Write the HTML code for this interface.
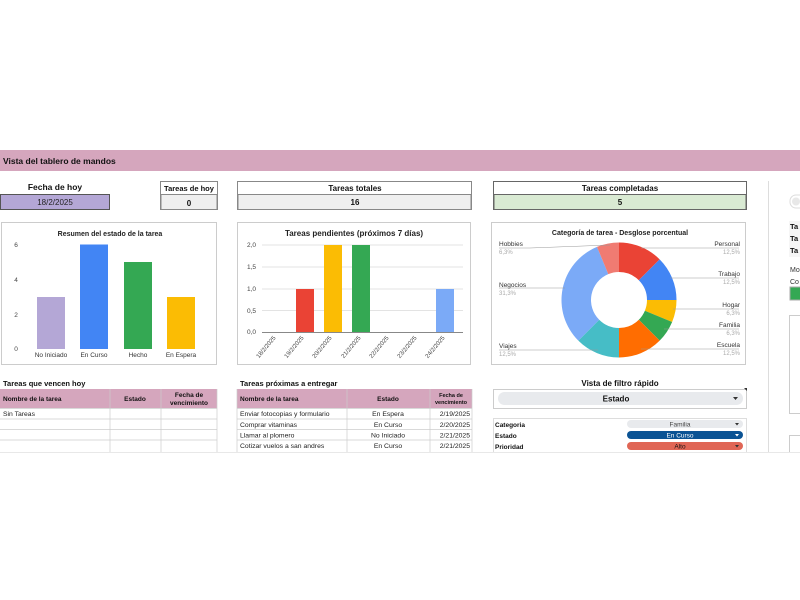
<!DOCTYPE html>
<html><head><meta charset="utf-8"><style>
html,body{margin:0;padding:0;background:#fff;}
svg{display:block;font-family:"Liberation Sans",sans-serif;}
</style></head><body>
<svg width="800" height="600" viewBox="0 0 800 600" xmlns="http://www.w3.org/2000/svg">
<rect width="800" height="600" fill="#fff"/>
<!-- header -->
<rect x="0" y="150" width="800" height="21" fill="#d5a6bd"/>
<text x="3" y="164" font-size="8.5" font-weight="bold" fill="#111">Vista del tablero de mandos</text>

<!-- Fecha de hoy -->
<text x="55" y="190" font-size="8.5" font-weight="bold" text-anchor="middle" fill="#111">Fecha de hoy</text>
<rect x="0.5" y="194.5" width="109" height="15" fill="#b4a7d6" stroke="#555"/>
<text x="55" y="205" font-size="8" text-anchor="middle" fill="#222">18/2/2025</text>

<!-- Tareas de hoy -->
<rect x="160.5" y="181.5" width="57" height="28" fill="#fff" stroke="#888"/>
<rect x="161" y="194.5" width="56" height="15" fill="#efefef" stroke="#888"/>
<text x="189" y="191" font-size="7.5" font-weight="bold" text-anchor="middle" fill="#111">Tareas de hoy</text>
<text x="189" y="206" font-size="8" font-weight="bold" text-anchor="middle" fill="#111">0</text>

<!-- Tareas totales -->
<rect x="237.5" y="181.5" width="234" height="28" fill="#fff" stroke="#888"/>
<rect x="238" y="194.5" width="233" height="15" fill="#efefef" stroke="#888"/>
<text x="355" y="191" font-size="8" font-weight="bold" text-anchor="middle" fill="#111">Tareas totales</text>
<text x="355" y="205" font-size="8" font-weight="bold" text-anchor="middle" fill="#111">16</text>

<!-- Tareas completadas -->
<rect x="493.5" y="181.5" width="253" height="28" fill="#fff" stroke="#666"/>
<rect x="494" y="194.5" width="252" height="15" fill="#d9ead3" stroke="#666"/>
<text x="620" y="191" font-size="8" font-weight="bold" text-anchor="middle" fill="#111">Tareas completadas</text>
<text x="620" y="205" font-size="8" font-weight="bold" text-anchor="middle" fill="#111">5</text>

<!-- right partial -->
<line x1="768.5" y1="181" x2="768.5" y2="452" stroke="#ddd"/>
<rect x="790" y="195" width="20" height="13" rx="6" fill="#fff" stroke="#ddd"/>
<circle cx="796" cy="201.5" r="4" fill="#e8e8e8"/>
<rect x="789" y="221" width="20" height="36" fill="#f6f6f6"/>
<text x="790" y="229" font-size="7.5" font-weight="bold" fill="#111">Ta</text>
<text x="790" y="241" font-size="7.5" font-weight="bold" fill="#111">Ta</text>
<text x="790" y="253" font-size="7.5" font-weight="bold" fill="#111">Ta</text>
<text x="790" y="272" font-size="7" fill="#333">Mo</text>
<text x="790" y="284" font-size="7" fill="#333">Co</text>
<rect x="790" y="287" width="12" height="13" fill="#34a853" stroke="#aaa"/>
<rect x="789.5" y="315.5" width="14" height="98" fill="#fff" stroke="#ccc"/>
<rect x="789.5" y="435.5" width="14" height="20" fill="#fff" stroke="#ccc"/>

<!-- Chart 1 -->
<rect x="1.5" y="222.5" width="215" height="142" fill="#fff" stroke="#ccc"/>
<text x="110" y="236" font-size="7" font-weight="bold" text-anchor="middle" fill="#222">Resumen del estado de la tarea</text>
<g font-size="6.5" fill="#444">
<text x="16" y="247" text-anchor="middle">6</text>
<text x="16" y="282" text-anchor="middle">4</text>
<text x="16" y="317" text-anchor="middle">2</text>
<text x="16" y="351" text-anchor="middle">0</text>
</g>
<rect x="37" y="297" width="28" height="52" fill="#b4a7d6"/>
<rect x="80" y="244.5" width="28" height="104.5" fill="#4285f4"/>
<rect x="124" y="262" width="28" height="87" fill="#34a853"/>
<rect x="167" y="297" width="28" height="52" fill="#fbbc04"/>
<g font-size="6.5" fill="#333" text-anchor="middle">
<text x="51" y="357">No Iniciado</text>
<text x="94" y="357">En Curso</text>
<text x="138" y="357">Hecho</text>
<text x="181" y="357">En Espera</text>
</g>

<!-- Chart 2 -->
<rect x="237.5" y="222.5" width="233" height="142" fill="#fff" stroke="#ccc"/>
<text x="354" y="236" font-size="8" font-weight="bold" text-anchor="middle" fill="#222">Tareas pendientes (próximos 7 días)</text>
<g stroke="#e3e3e3">
<line x1="262" y1="245" x2="463" y2="245"/>
<line x1="262" y1="267" x2="463" y2="267"/>
<line x1="262" y1="289" x2="463" y2="289"/>
<line x1="262" y1="310.5" x2="463" y2="310.5"/>
</g>
<g font-size="6.5" fill="#444" text-anchor="end">
<text x="256" y="247">2,0</text>
<text x="256" y="269">1,5</text>
<text x="256" y="291">1,0</text>
<text x="256" y="313">0,5</text>
<text x="256" y="334">0,0</text>
</g>
<rect x="296" y="289" width="18" height="43" fill="#ea4335"/>
<rect x="324" y="245" width="18" height="87" fill="#fbbc04"/>
<rect x="352" y="245" width="18" height="87" fill="#34a853"/>
<rect x="436" y="289" width="18" height="43" fill="#7baaf7"/>
<line x1="262" y1="332.5" x2="463" y2="332.5" stroke="#888"/>
<g font-size="6" fill="#444" text-anchor="end">
<text transform="translate(276,338) rotate(-50)">18/2/2025</text>
<text transform="translate(304,338) rotate(-50)">19/2/2025</text>
<text transform="translate(332,338) rotate(-50)">20/2/2025</text>
<text transform="translate(361,338) rotate(-50)">21/2/2025</text>
<text transform="translate(389,338) rotate(-50)">22/2/2025</text>
<text transform="translate(417,338) rotate(-50)">23/2/2025</text>
<text transform="translate(445,338) rotate(-50)">24/2/2025</text>
</g>

<!-- Chart 3 donut -->
<rect x="491.5" y="222.5" width="254" height="142" fill="#fff" stroke="#ccc"/>
<text x="620" y="235" font-size="7" font-weight="bold" text-anchor="middle" fill="#222">Categoría de tarea - Desglose porcentual</text>
<g transform="translate(619,300)">
<path d="M0,-57.5 A57.5,57.5 0 0,1 40.66,-40.66 L19.8,-19.8 A28,28 0 0,0 0,-28 Z" fill="#ea4335"/>
<path d="M40.66,-40.66 A57.5,57.5 0 0,1 57.5,0 L28,0 A28,28 0 0,0 19.8,-19.8 Z" fill="#4285f4"/>
<path d="M57.5,0 A57.5,57.5 0 0,1 53.12,22.0 L25.87,10.72 A28,28 0 0,0 28,0 Z" fill="#fbbc04"/>
<path d="M53.12,22.0 A57.5,57.5 0 0,1 40.66,40.66 L19.8,19.8 A28,28 0 0,0 25.87,10.72 Z" fill="#34a853"/>
<path d="M40.66,40.66 A57.5,57.5 0 0,1 0,57.5 L0,28 A28,28 0 0,0 19.8,19.8 Z" fill="#ff6d01"/>
<path d="M0,57.5 A57.5,57.5 0 0,1 -40.66,40.66 L-19.8,19.8 A28,28 0 0,0 0,28 Z" fill="#46bdc6"/>
<path d="M-40.66,40.66 A57.5,57.5 0 0,1 -22.0,-53.12 L-10.72,-25.87 A28,28 0 0,0 -19.8,19.8 Z" fill="#7baaf7"/>
<path d="M-22.0,-53.12 A57.5,57.5 0 0,1 0,-57.5 L0,-28 A28,28 0 0,0 -10.72,-25.87 Z" fill="#f07b72"/>
</g>
<g stroke="#999" stroke-width="0.6" fill="none">
<polyline points="499,248 530,248 610,245"/>
<polyline points="499,288 565,288"/>
<polyline points="499,350 598,350"/>
<polyline points="739,248 700,248 641,248"/>
<polyline points="739,278 670,278"/>
<polyline points="739,309 673,309"/>
<polyline points="739,329 664,329"/>
<polyline points="739,349 641,349"/>
</g>
<g font-size="6.5" fill="#333">
<text x="499" y="246">Hobbies</text>
<text x="499" y="287">Negocios</text>
<text x="499" y="348">Viajes</text>
<g text-anchor="end">
<text x="740" y="246">Personal</text>
<text x="740" y="276">Trabajo</text>
<text x="740" y="307">Hogar</text>
<text x="740" y="327">Familia</text>
<text x="740" y="347">Escuela</text>
</g>
</g>
<g font-size="6" fill="#aaa">
<text x="499" y="254">6,3%</text>
<text x="499" y="295">31,3%</text>
<text x="499" y="356">12,5%</text>
<g text-anchor="end">
<text x="740" y="254">12,5%</text>
<text x="740" y="284">12,5%</text>
<text x="740" y="315">6,3%</text>
<text x="740" y="335">6,3%</text>
<text x="740" y="355">12,5%</text>
</g>
</g>

<!-- Table 1 -->
<text x="3" y="386" font-size="7.5" font-weight="bold" fill="#111">Tareas que vencen hoy</text>
<rect x="0" y="389" width="217" height="19" fill="#d5a6bd"/>
<g font-size="6.5" font-weight="bold" fill="#111">
<text x="3" y="401">Nombre de la tarea</text>
<text x="135" y="401" text-anchor="middle">Estado</text>
<text x="189" y="397" text-anchor="middle">Fecha de</text>
<text x="189" y="405" text-anchor="middle">vencimiento</text>
</g>
<g stroke="#ccc" stroke-width="0.7">
<line x1="0" y1="408.5" x2="217" y2="408.5"/>
<line x1="0" y1="419" x2="217" y2="419"/>
<line x1="0" y1="429.5" x2="217" y2="429.5"/>
<line x1="0" y1="440" x2="217" y2="440"/>
<line x1="110" y1="389" x2="110" y2="452"/>
<line x1="161" y1="389" x2="161" y2="452"/>
<line x1="217" y1="389" x2="217" y2="452"/>
</g>
<text x="3" y="416" font-size="6.8" fill="#222">Sin Tareas</text>

<!-- Table 2 -->
<text x="240" y="386" font-size="7.5" font-weight="bold" fill="#111">Tareas próximas a entregar</text>
<rect x="237" y="389" width="235" height="19" fill="#d5a6bd"/>
<g font-size="6.5" font-weight="bold" fill="#111">
<text x="240" y="401">Nombre de la tarea</text>
<text x="388" y="401" text-anchor="middle">Estado</text>
<text x="451" y="397" text-anchor="middle" font-size="5.5">Fecha de</text>
<text x="451" y="404" text-anchor="middle" font-size="5.5">vencimiento</text>
</g>
<g stroke="#ccc" stroke-width="0.7">
<line x1="237" y1="389" x2="237" y2="452"/>
<line x1="237" y1="408.5" x2="472" y2="408.5"/>
<line x1="237" y1="419" x2="472" y2="419"/>
<line x1="237" y1="429.5" x2="472" y2="429.5"/>
<line x1="237" y1="440" x2="472" y2="440"/>
<line x1="347" y1="389" x2="347" y2="452"/>
<line x1="430" y1="389" x2="430" y2="452"/>
<line x1="472" y1="389" x2="472" y2="452"/>
</g>
<g font-size="6.8" fill="#222">
<text x="240" y="416">Enviar fotocopias y formulario</text>
<text x="240" y="427">Comprar vitaminas</text>
<text x="240" y="437.5">Llamar al plomero</text>
<text x="240" y="448">Cotizar vuelos a san andres</text>
<g text-anchor="middle">
<text x="388" y="416">En Espera</text>
<text x="388" y="427">En Curso</text>
<text x="388" y="437.5">No Iniciado</text>
<text x="388" y="448">En Curso</text>
</g>
<g text-anchor="end">
<text x="470" y="416">2/19/2025</text>
<text x="470" y="427">2/20/2025</text>
<text x="470" y="437.5">2/21/2025</text>
<text x="470" y="448">2/21/2025</text>
</g>
</g>

<!-- Filter -->
<text x="620" y="386" font-size="8" font-weight="bold" text-anchor="middle" fill="#111">Vista de filtro rápido</text>
<rect x="493.5" y="389.5" width="253" height="19" fill="#fff" stroke="#ccc"/>
<rect x="498" y="392" width="245" height="13" rx="6.5" fill="#e8eaed"/>
<text x="616" y="401.5" font-size="8" font-weight="bold" text-anchor="middle" fill="#111">Estado</text>
<path d="M733,397 l5,0 l-2.5,3 z" fill="#333"/>
<path d="M744,388 l3,0 l0,3 z" fill="#333"/>
<rect x="493.5" y="418.5" width="253" height="36" fill="#fff" stroke="#ddd"/>
<g font-size="6.5" font-weight="bold" fill="#111">
<text x="495" y="427">Categoria</text>
<text x="495" y="438">Estado</text>
<text x="495" y="449">Prioridad</text>
</g>
<rect x="627" y="420" width="116" height="8" rx="4" fill="#e8eaed"/>
<rect x="627" y="431" width="116" height="8" rx="4" fill="#0b5394"/>
<rect x="627" y="442" width="116" height="8" rx="4" fill="#e06655"/>
<g font-size="6.5" text-anchor="middle">
<text x="680" y="426.5" fill="#444">Familia</text>
<text x="680" y="437.5" fill="#fff">En Curso</text>
<text x="680" y="448.5" fill="#111">Alto</text>
</g>
<path d="M735,423 l4,0 l-2,2.5 z" fill="#333"/>
<path d="M735,434 l4,0 l-2,2.5 z" fill="#fff"/>
<path d="M735,445 l4,0 l-2,2.5 z" fill="#333"/>

<!-- cutoff -->
<rect x="0" y="452" width="800" height="148" fill="#fff"/>
<line x1="0" y1="452.5" x2="800" y2="452.5" stroke="#e8e8e8"/>
</svg>
</body></html>
